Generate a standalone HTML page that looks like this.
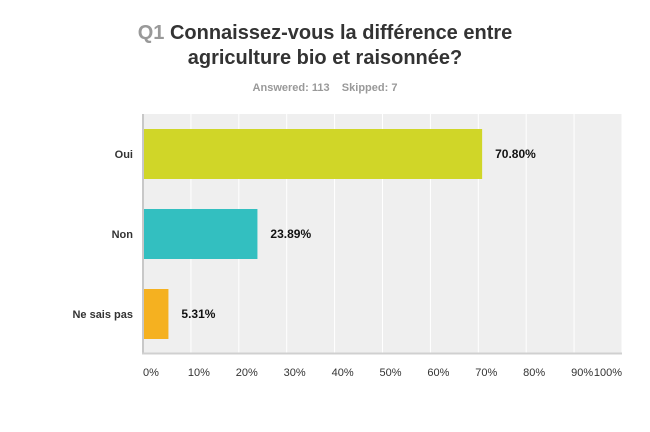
<!DOCTYPE html>
<html><head><meta charset="utf-8"><style>
body{margin:0;width:650px;height:427px;background:#fff;font-family:"Liberation Sans",Arial,sans-serif;overflow:hidden}
</style></head><body>
<svg width="650" height="427">
<text x="325" y="39" text-anchor="middle" font-size="20" font-weight="bold" fill="#333"><tspan fill="#999">Q1</tspan> Connaissez-vous la différence entre</text>
<text x="325" y="64" text-anchor="middle" font-size="20" font-weight="bold" fill="#333">agriculture bio et raisonnée?</text>
<text x="325" y="91" text-anchor="middle" font-size="11" font-weight="bold" fill="#999">Answered: 113 &#160;&#160;&#160;Skipped: 7</text>
<rect x="143" y="114" width="479" height="239" fill="#efefef"/>
<g id="grid"></g>
<g id="bars"></g>
<line x1="143" y1="114" x2="143" y2="354" stroke="#c8c8c8" stroke-width="2"/>
<line x1="142" y1="353.5" x2="622" y2="353.5" stroke="#d0d0d0" stroke-width="2"/>
<g id="ticks"></g>
</svg>
<script>
const categories=["Oui","Non","Ne sais pas"];
const values=[70.80,23.89,5.31];
const colors=["#d0d628","#33bfc0","#f5b120"];
const tickLabels=["0%","10%","20%","30%","40%","50%","60%","70%","80%","90%","100%"];
const tickValues=[0,10,20,30,40,50,60,70,80,90,100];
const NS="http://www.w3.org/2000/svg";
const x0=143,x1=622;
const xs=v=>x0+(x1-x0)*v/100;
const yBand=i=>129+i*80;
const grid=document.getElementById('grid'),bars=document.getElementById('bars'),ticks=document.getElementById('ticks');
tickValues.forEach((t,i)=>{
  if(t>0){const l=document.createElementNS(NS,'line');
  
  
  l.setAttribute('x1',xs(t));l.setAttribute('x2',xs(t));l.setAttribute('y1',114);l.setAttribute('y2',353);
  l.setAttribute('stroke','#fff');l.setAttribute('stroke-width','1');grid.appendChild(l);}
  const tx=document.createElementNS(NS,'text');
  
  
  let px=xs(t)+8; if(t===0)px=x0+8; if(t===100)px=xs(t)-14;
  tx.setAttribute('x',px);tx.setAttribute('y',376);tx.setAttribute('text-anchor','middle');
  tx.setAttribute('font-size','11');tx.setAttribute('fill','#333');tx.textContent=tickLabels[i];ticks.appendChild(tx);
});
categories.forEach((c,i)=>{
  const y=yBand(i);
  const r=document.createElementNS(NS,'rect');
  
  
  r.setAttribute('x',x0);r.setAttribute('y',y);r.setAttribute('width',xs(values[i])-x0);r.setAttribute('height',50);
  r.setAttribute('fill',colors[i]);bars.appendChild(r);
  const lb=document.createElementNS(NS,'text');
  
  
  lb.setAttribute('x',133);lb.setAttribute('y',y+29);lb.setAttribute('text-anchor','end');
  lb.setAttribute('font-size','11');lb.setAttribute('font-weight','bold');lb.setAttribute('fill','#333');
  lb.textContent=c;bars.appendChild(lb);
  const vl=document.createElementNS(NS,'text');
  
  
  vl.setAttribute('x',xs(values[i])+13);vl.setAttribute('y',y+29);
  vl.setAttribute('font-size','12');vl.setAttribute('font-weight','bold');vl.setAttribute('fill','#111');
  vl.textContent=values[i].toFixed(2)+'%';bars.appendChild(vl);
});
</script>
</body></html>
